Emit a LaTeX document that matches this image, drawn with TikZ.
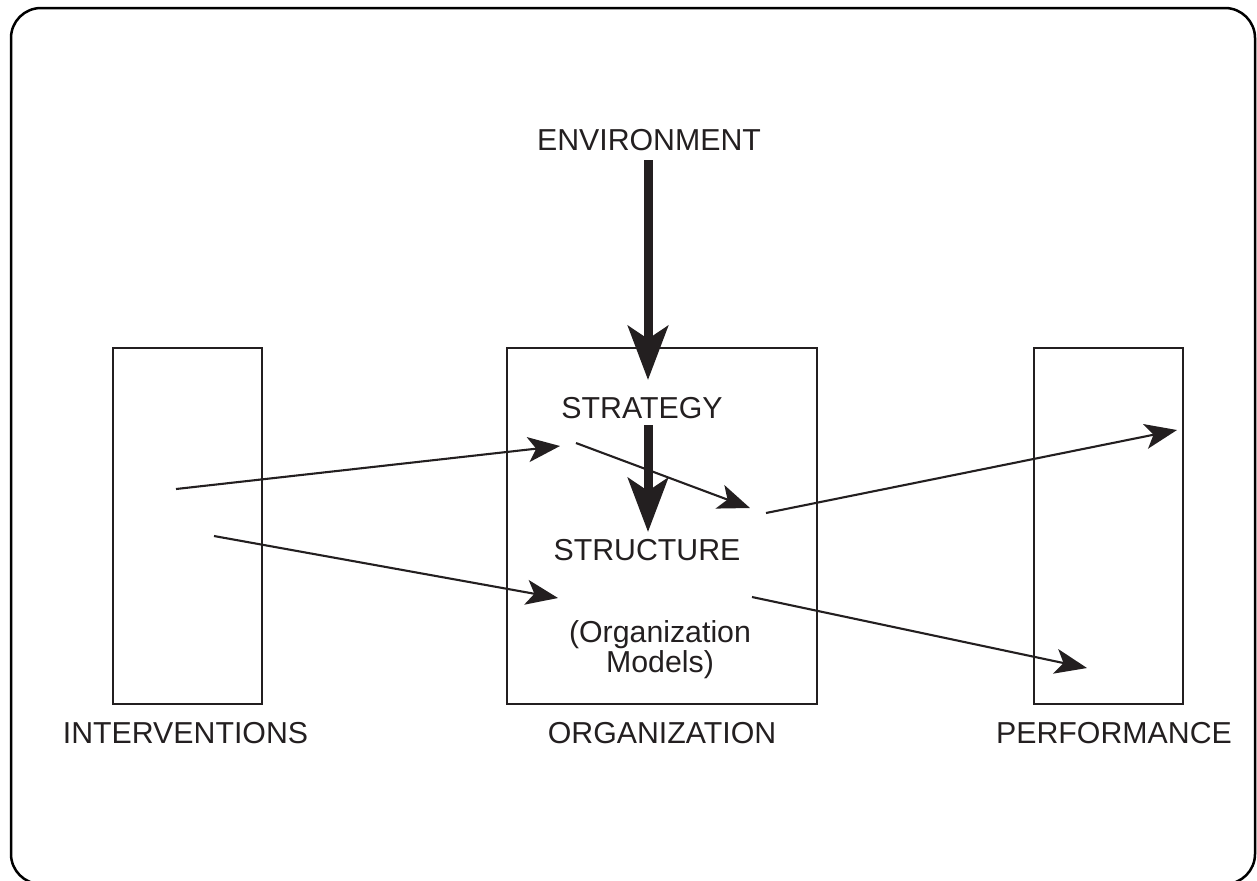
\documentclass[tikz,border=0pt]{standalone}
\usepackage{fontspec}
\setmainfont{Liberation Sans}
\usetikzlibrary{arrows.meta}
\definecolor{ink}{HTML}{231F20}
\begin{document}
\begin{tikzpicture}[x=0.5pt, y=-0.5pt,
  lbl/.style={inner sep=0pt, text=ink, font=\fontsize{15.15pt}{15pt}\selectfont},
  panel/.style={draw=ink, line width=1pt, inner sep=0pt, minimum width=74.5pt, minimum height=178pt},
  bigarrow/.style={draw=ink, line width=4.5pt, -{Stealth[length=27pt, width=20pt, inset=6.5pt]}},
  thinarrow/.style={draw=ink, line width=1.05pt, -{Stealth[length=16pt, width=12.5pt, inset=4pt]}}]
  \useasboundingbox (0,0) rectangle (1257,880);
  % outer frame
  \draw[line width=1.25pt, rounded corners=15pt] (11,8) rectangle (1255,884);

  % three panels
  \node[panel] (interv) at (187.5,526) {};
  \node[panel, minimum width=155pt] (org) at (662,526) {};
  \node[panel] (perf) at (1108.5,526) {};

  % labels
  \node[lbl] (envlbl) at (649,140.5) {ENVIRONMENT};
  \node[lbl] (intlbl) at (185.5,733.5) {INTERVENTIONS};
  \node[lbl] (orglbl) at (662,733.5) {ORGANIZATION};
  \node[lbl] (perflbl) at (1114,733.5) {PERFORMANCE};
  \node[lbl] (strat) at (642,408) {STRATEGY};
  \node[lbl] (struct) at (647,550) {STRUCTURE};
  \node[lbl, align=center] (models) at (660,650) {(Organization\\Models)};

  % arrow end points
  \coordinate (e1) at (648,160);
  \coordinate (e2) at (648,380);
  \coordinate (s1) at (648,425);
  \coordinate (s2) at (648,532);
  \coordinate (a1) at (176,489);
  \coordinate (a2) at (560,446);
  \coordinate (b1) at (576,443);
  \coordinate (b2) at (750,508);
  \coordinate (c1) at (766,513);
  \coordinate (c2) at (1177,430);
  \coordinate (d1) at (214,536);
  \coordinate (d2) at (558,598);
  \coordinate (f1) at (752,597);
  \coordinate (f2) at (1087,668);

  % environment drives strategy, strategy drives structure
  \draw[bigarrow] (e1) -- (e2);
  \draw[bigarrow] (s1) -- (s2);

  % interventions through the organization to performance
  \draw[thinarrow] (a1) -- (a2);
  \draw[thinarrow] (b1) -- (b2);
  \draw[thinarrow] (c1) -- (c2);
  \draw[thinarrow] (d1) -- (d2);
  \draw[thinarrow] (f1) -- (f2);
\end{tikzpicture}
\end{document}
